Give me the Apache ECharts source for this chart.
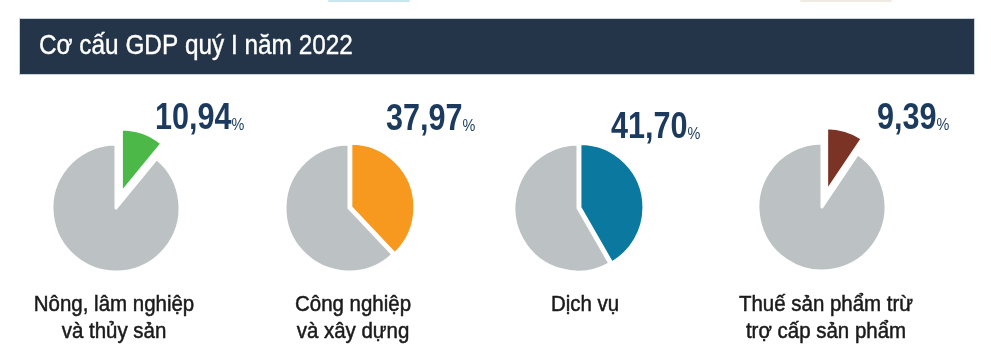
<!DOCTYPE html>
<html>
<head>
<meta charset="utf-8">
<script src="https://cdn.jsdelivr.net/npm/echarts@6/dist/echarts.min.js"></script>
<style>
  html, body { margin: 0; padding: 0; background: #fff; }
  #chart { width: 991px; height: 352px; }
</style>
</head>
<body>
<div id="chart"></div>
<script>
const title = 'Cơ cấu GDP quý I năm 2022'
const categories = ['Nông, lâm nghiệp\nvà thủy sản', 'Công nghiệp\nvà xây dựng', 'Dịch vụ', 'Thuế sản phẩm trừ\ntrợ cấp sản phẩm']
const shares = [10.94, 37.97, 41.70, 9.39]

// layout, per pie
const sliceColors = ['#4cb848', '#f7991e', '#0a789f', '#7a3324']
const restColor = '#bcc1c3'
const centers = [[116, 208], [349, 208], [578, 208], [822, 207]]
const offsets = [16, 2, 2, 16]
const pctPos = [[155, 119], [386, 120], [611, 128], [877, 119]]
const labelX = [114, 353, 585, 826]

// no narrow face installed, so squeeze the regular one
const FONT = '"Liberation Sans", Arial, sans-serif'
const chart = echarts.init(document.getElementById('chart'))

const series = shares.map((v, i) => ({
  type: 'pie',
  center: centers[i],
  radius: 64,
  startAngle: 90,
  clockwise: true,
  silent: true,
  animation: false,
  selectedMode: 'single',
  selectedOffset: offsets[i],
  label: { show: false },
  labelLine: { show: false },
  itemStyle: { borderColor: '#fff', borderWidth: 3 },
  data: [
    { value: v, selected: true, itemStyle: { color: sliceColors[i] } },
    { value: +(100 - v).toFixed(2), itemStyle: { color: restColor } }
  ]
}))

const texts = []
shares.forEach((v, i) => {
  texts.push({
    type: 'text',
    x: pctPos[i][0],
    y: pctPos[i][1],
    scaleX: 0.85,
    style: {
      text: '{v|' + v.toFixed(2).replace('.', ',') + '}{p|%}',
      verticalAlign: 'middle',
      rich: {
        v: { fontFamily: FONT, fontSize: 36, fontWeight: 'bold', fill: '#1b3a5d' },
        p: { fontFamily: FONT, fontSize: 17, fill: '#1b3a5d', verticalAlign: 'bottom', padding: [0, 0, 3, 0] }
      }
    }
  })
  texts.push({
    type: 'text',
    x: labelX[i],
    y: 291,
    scaleX: 0.93,
    style: {
      text: categories[i],
      align: 'center',
      verticalAlign: 'top',
      font: '22px ' + FONT,
      lineHeight: 27,
      fill: '#1a1a1a',
      stroke: '#1a1a1a',
      lineWidth: 0.5
    }
  })
})

chart.setOption({
  backgroundColor: '#fff',
  graphic: [
    { type: 'rect', shape: { x: 328, y: 0, width: 82, height: 2, r: 1 }, style: { fill: '#c8e7f1' } },
    { type: 'rect', shape: { x: 800, y: 0, width: 92, height: 2, r: 1 }, style: { fill: '#efebe3' } },
    {
      type: 'rect',
      shape: { x: 19.5, y: 18.5, width: 955, height: 56 },
      style: { fill: '#243449', stroke: '#c9d3dd', lineWidth: 1 }
    },
    {
      type: 'text',
      x: 39,
      y: 46,
      scaleX: 0.87,
      style: { text: title, font: '28px ' + FONT, fill: '#fff', stroke: '#fff', lineWidth: 0.4, verticalAlign: 'middle' }
    }
  ].concat(texts),
  series: series
})
</script>
</body>
</html>
